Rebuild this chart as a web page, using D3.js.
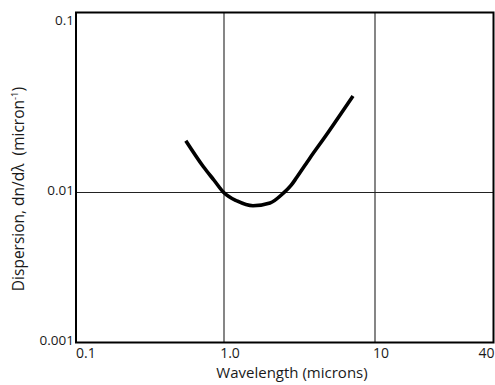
<!DOCTYPE html>
<html>
<head>
<meta charset="utf-8">
<script src="https://cdn.jsdelivr.net/npm/d3@7"></script>
<style>
  html, body { margin: 0; padding: 0; background: #fff; }
  svg { display: block; }
  text { font-family: "Open Sans", "DejaVu Sans", sans-serif; fill: #1a1a1a; }
</style>
</head>
<body>
<svg id="chart" width="495" height="385"></svg>
<script>
// ---- data ----
const wavelength = [0.552, 0.726, 0.859, 1.0, 1.219, 1.556, 2.017, 2.459, 2.778, 3.043, 3.71, 4.81, 5.87, 7.15];
const dispersion = [0.0194, 0.0139, 0.01166, 0.00995, 0.00878, 0.00816, 0.00851, 0.00985, 0.01094, 0.01219, 0.01556, 0.02113, 0.02698, 0.0344];
const xTicks = [0.1, 1, 10, 40];
const xTickLabels = ["0.1", "1.0", "10", "40"];
const yTicks = [0.001, 0.01, 0.1];
const yTickLabels = ["0.001", "0.01", "0.1"];
const xTitle = "Wavelength (microns)";
const yTitle = "Dispersion, dn/d\u03bb\u00a0\u00a0(micron";

// ---- layout ----
const svg = d3.select("#chart");
const mLeft = 76, mRight = 493.5, mTop = 12.5, mBottom = 342.5;

// the printed axes are hand-drawn: decades are not evenly spaced, so use piecewise log scales
const x = d3.scaleLog().domain([0.1, 1, 10, 40]).range([mLeft, 224, 375, mRight]);
const y = d3.scaleLog().domain([0.001, 0.01, 0.1]).range([mBottom, 192.5, mTop]);

// grid lines (interior decades only)
svg.append("g").selectAll("line")
  .data(xTicks.filter((d, i) => i > 0 && i < xTicks.length - 1))
  .join("line")
  .attr("x1", d => x(d)).attr("x2", d => x(d))
  .attr("y1", mTop).attr("y2", mBottom)
  .attr("stroke", "#222").attr("stroke-width", 1.1);

svg.append("g").selectAll("line")
  .data(yTicks.filter((d, i) => i > 0 && i < yTicks.length - 1))
  .join("line")
  .attr("x1", mLeft).attr("x2", mRight)
  .attr("y1", d => y(d)).attr("y2", d => y(d))
  .attr("stroke", "#222").attr("stroke-width", 1.1);

// frame
svg.append("rect")
  .attr("x", mLeft).attr("y", mTop)
  .attr("width", mRight - mLeft).attr("height", mBottom - mTop)
  .attr("fill", "none").attr("stroke", "#000").attr("stroke-width", 2);

// curve
const pts = wavelength.map((w, i) => [w, dispersion[i]]);
const line = d3.line()
  .x(d => x(d[0])).y(d => y(d[1]))
  .curve(d3.curveMonotoneX);
svg.append("path")
  .datum(pts)
  .attr("d", line)
  .attr("fill", "none").attr("stroke", "#000")
  .attr("stroke-width", 3.6).attr("stroke-linecap", "butt");

// x tick labels
svg.append("g").selectAll("text")
  .data(xTicks)
  .join("text")
  .attr("x", (d, i) => x(d) + (i === 0 ? 0 : (i === xTicks.length - 1 ? 1 : 6)))
  .attr("y", 358)
  .attr("text-anchor", (d, i) => i === 0 ? "start" : (i === xTicks.length - 1 ? "end" : "middle"))
  .attr("font-size", 14)
  .text((d, i) => xTickLabels[i]);

// y tick labels
svg.append("g").selectAll("text")
  .data(yTicks)
  .join("text")
  .attr("x", mLeft - 2)
  .attr("y", d => y(d))
  .attr("dy", (d, i) => i === yTicks.length - 1 ? "0.95em" : "0.2em")
  .attr("text-anchor", "end")
  .attr("font-size", 13.5)
  .text((d, i) => yTickLabels[i]);

// axis titles
svg.append("text")
  .attr("x", 292).attr("y", 378)
  .attr("text-anchor", "middle")
  .attr("font-size", 15)
  .text(xTitle);

const yt = svg.append("text")
  .attr("transform", "translate(24,189) rotate(-90)")
  .attr("text-anchor", "middle")
  .attr("font-size", 15.5);
yt.append("tspan").text(yTitle);
yt.append("tspan").attr("font-size", 9.5).attr("dy", -6).text("-1");
yt.append("tspan").attr("dy", 6).text(")");
</script>
</body>
</html>
